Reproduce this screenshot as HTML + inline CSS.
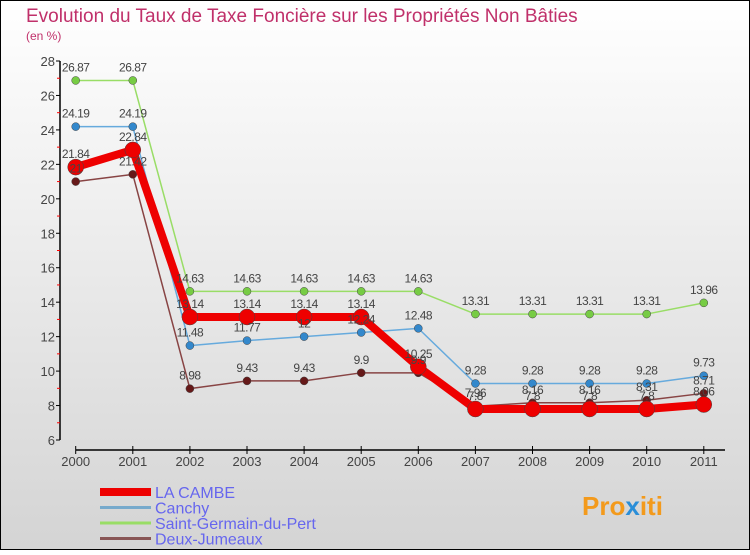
<!DOCTYPE html>
<html><head><meta charset="utf-8"><style>
body{margin:0;width:750px;height:550px;overflow:hidden;font-family:"Liberation Sans",sans-serif}
</style></head><body>
<svg width="750" height="550" viewBox="0 0 750 550" xmlns="http://www.w3.org/2000/svg">
<defs><linearGradient id="bg" x1="0" y1="0" x2="0" y2="1"><stop offset="0" stop-color="#ffffff"/><stop offset="1" stop-color="#d4d4d4"/></linearGradient></defs>
<rect x="0.5" y="0.5" width="749" height="549" fill="url(#bg)" stroke="#000"/>
<text x="26" y="22" font-size="19" fill="#c0306a">Evolution du Taux de Taxe Foncière sur les Propriétés Non Bâties</text>
<text x="26" y="40" font-size="12" fill="#c0306a">(en %)</text>
<g id="axes"></g>
<g id="series"></g>
<g id="legend"></g>
<text x="582" y="515" font-size="26" font-weight="bold" fill="#f39a1c">Pro<tspan fill="#2a8ed8">x</tspan>iti</text>
</svg>
<script>
const years=["2000","2001","2002","2003","2004","2005","2006","2007","2008","2009","2010","2011"];
const yTicks=[6,8,10,12,14,16,18,20,22,24,26,28];
const laCambe=[21.84,22.84,13.14,13.14,13.14,13.14,10.25,7.8,7.8,7.8,7.8,8.06];
const canchy=[24.19,24.19,11.48,11.77,12,12.24,12.48,9.28,9.28,9.28,9.28,9.73];
const saintGermain=[26.87,26.87,14.63,14.63,14.63,14.63,14.63,13.31,13.31,13.31,13.31,13.96];
const deuxJumeaux=[21,21.42,8.98,9.43,9.43,9.9,9.9,7.96,8.16,8.16,8.31,8.71];
const NS="http://www.w3.org/2000/svg";
const xS=i=>75.7+i*57.1;
const yS=v=>440-(v-6)*(379/22);
function mk(p,t,a){const e=document.createElementNS(NS,t);for(const k in a)e.setAttribute(k,a[k]);p.appendChild(e);return e;}
const ax=document.getElementById('axes');
let l=mk(ax,'line',{x1:60,y1:yS(28),x2:60,y2:yS(6),stroke:'#000','stroke-width':1.5});


yTicks.forEach(v=>{
 mk(ax,'line',{x1:56,y1:yS(v),x2:60,y2:yS(v),stroke:'#000'});
 if(v<28){mk(ax,'line',{x1:57,y1:yS(v+1),x2:60,y2:yS(v+1),stroke:'#f00'});}
 const t=mk(ax,'text',{x:55,y:yS(v)+5,'text-anchor':'end','font-size':13,fill:'#444'});
 
 
 t.textContent=v;
});
l=mk(ax,'line',{x1:xS(0),y1:450,x2:725,y2:450,stroke:'#000','stroke-width':1.5});


years.forEach((y,i)=>{
 mk(ax,'line',{x1:xS(i),y1:446,x2:xS(i),y2:454,stroke:'#000'});
 const t=mk(ax,'text',{x:xS(i),y:466,'text-anchor':'middle','font-size':13,fill:'#444'});
 
 
 t.textContent=y;
});
const sg=document.getElementById('series');
const series=[
 {name:'saint-germain',d:saintGermain,c:'#99dd66',pc:'#77cc44',w:1.5,r:4},
 {name:'canchy',d:canchy,c:'#66aadd',pc:'#3388cc',w:1.5,r:4},
 {name:'deux-jumeaux',d:deuxJumeaux,c:'#884444',pc:'#661919',w:1.5,r:4},
 {name:'la-cambe',d:laCambe,c:'#ee0000',pc:'#ee0000',w:8,r:8}
];
series.forEach(s=>{
 const pl=mk(sg,'polyline',{points:s.d.map((v,i)=>xS(i)+','+yS(v)).join(' '),fill:'none',stroke:s.c,'stroke-width':s.w,'stroke-linejoin':'round'});
 
 
 s.d.forEach((v,i)=>{
  const c=mk(sg,'circle',{cx:xS(i),cy:yS(v),r:s.r,fill:s.pc,stroke:'#444','stroke-width':0.5});
  
  
 });
});
series.forEach(s=>{
 s.d.forEach((v,i)=>{
  const t=mk(sg,'text',{x:xS(i),y:yS(v)-9,'text-anchor':'middle','font-size':12,fill:'#444','letter-spacing':'-0.5'});
  
  
  t.textContent=v;
 });
});
const lg=document.getElementById('legend');
const leg=[['LA CAMBE','#ee0000',8],['Canchy','#77aacc',3],['Saint-Germain-du-Pert','#99dd66',3],['Deux-Jumeaux','#885555',3]];
leg.forEach((e,i)=>{
 const y=492+i*15.5;
 const ln=mk(lg,'line',{x1:100,y1:y,x2:151,y2:y,stroke:e[1],'stroke-width':e[2]});
 
 
 const t=mk(lg,'text',{x:155,y:y+6,'font-size':16,fill:'#6666ee'});
 
 
 t.textContent=e[0];
});
</script>
</body></html>
